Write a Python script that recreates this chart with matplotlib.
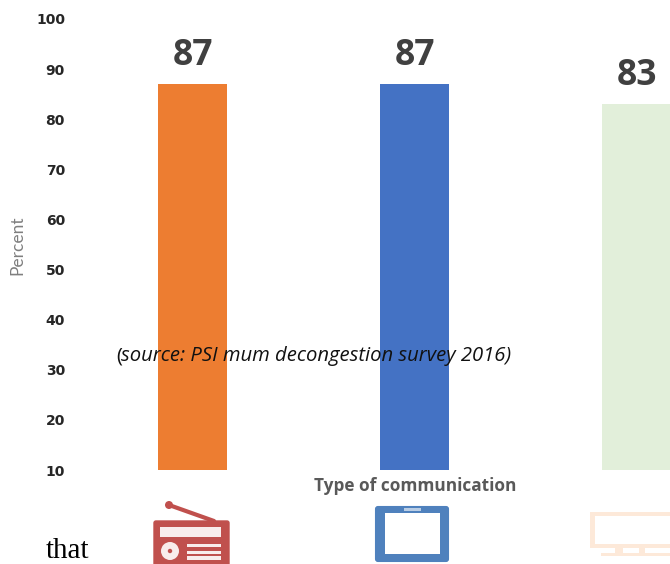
import matplotlib
matplotlib.use("Agg")
import matplotlib.pyplot as plt
from matplotlib.patches import Circle, Rectangle, FancyBboxPatch

W, H = 670, 564

categories = ["Radio", "Tablet", "TV"]
percent = [87, 87, 83]
bar_colors = ["#ED7D31", "#4472C4", "#E2EFDA"]
y_ticks = [10, 20, 30, 40, 50, 60, 70, 80, 90, 100]


def px_rect(ax, x0, y0, x1, y1, color):
    ax.add_patch(Rectangle((x0, y0), x1 - x0, y1 - y0, color=color, lw=0))


def draw_radio(ax):
    red = "#C0504D"
    ax.plot([169, 214], [505, 521], color=red, lw=3, solid_capstyle="round")
    ax.add_patch(Circle((169, 505), 4, color=red, lw=0))
    ax.add_patch(FancyBboxPatch((154, 521), 75, 47, boxstyle="round,pad=0,rounding_size=2",
                                mutation_aspect=1, fc=red, ec=red, lw=1))
    px_rect(ax, 160, 527, 221, 537, "#F8ECEB")
    ax.add_patch(Circle((170, 551), 9, color="#F8ECEB", lw=0))
    ax.add_patch(Circle((170, 551), 2.2, color=red, lw=0))
    for y0, y1 in [(543.5, 547), (550.5, 554), (556, 559.5)]:
        px_rect(ax, 187, y0, 221, y1, "#F8ECEB")


def draw_tablet(ax):
    blue = "#4F81BD"
    ax.add_patch(FancyBboxPatch((376, 507), 72, 54, boxstyle="round,pad=0,rounding_size=2",
                                fc=blue, ec=blue, lw=1.5))
    px_rect(ax, 385, 513, 440, 554, "white")
    px_rect(ax, 404, 508, 421, 510.5, "#B9CDE5")


def draw_tv(ax):
    peach = "#FDE9D9"
    px_rect(ax, 590, 512, 670, 548, peach)
    px_rect(ax, 595, 516, 670, 544, "white")
    px_rect(ax, 601, 553, 670, 556, peach)
    px_rect(ax, 615, 548, 623, 553, peach)
    px_rect(ax, 639, 548, 645, 553, peach)


fig = plt.figure(figsize=(W / 100, H / 100), dpi=100)

# axes placed so the categories land on the reference bar centres
left, right, top, bottom = 70, 670, 19, 470
ax = fig.add_axes([left / W, 1 - bottom / H, (right - left) / W, (bottom - top) / H])
x = list(range(len(categories)))
ax.bar(x, percent, width=0.315, bottom=0, color=bar_colors, clip_on=True)
ax.set_xlim((left - 192.5) / 222, (right - 192.5) / 222)
ax.set_ylim(10, 100)
ax.set_xticks([])
ax.set_yticks(y_ticks)
ax.tick_params(axis="y", length=0, pad=3.6, labelcolor="#262626")
for lab in ax.get_yticklabels():
    lab.set_fontweight("bold")
    lab.set_fontsize(10)
for s in ax.spines.values():
    s.set_visible(False)
ax.patch.set_alpha(0)

for xi, v in zip(x, percent):
    ax.annotate(str(v), (xi, v), xytext=(0, 7.5), textcoords="offset points",
                ha="center", va="bottom", family="Open Sans", fontweight="bold",
                fontsize=25.5, color="#404040", clip_on=False)

# overlay in pixel coordinates for the icons and loose text
ov = fig.add_axes([0, 0, 1, 1])
ov.set_xlim(0, W)
ov.set_ylim(H, 0)
ov.axis("off")
ov.patch.set_alpha(0)
draw_radio(ov)
draw_tablet(ov)
draw_tv(ov)

ov.text(17, 245, "Percent", rotation=90, ha="center", va="center",
        family="Lato", fontsize=12.5, color="#7F7F7F")
ov.text(415.5, 486, "Type of communication", ha="center", va="center",
        family="Open Sans", fontweight="bold", fontsize=12.4, color="#595959")
ov.text(116, 356.5, "(", ha="left", va="center", family="Open Sans", fontsize=14.6, color="#111111")
ov.text(121, 356.5, "source: PSI mum decongestion survey 2016)", ha="left", va="center",
        family="Open Sans", style="italic", fontsize=14.6, color="#111111")
ov.text(46, 557.5, "that", ha="left", va="baseline", family="Liberation Serif",
        fontsize=21, color="black")

fig.savefig("out.png", dpi=100)
